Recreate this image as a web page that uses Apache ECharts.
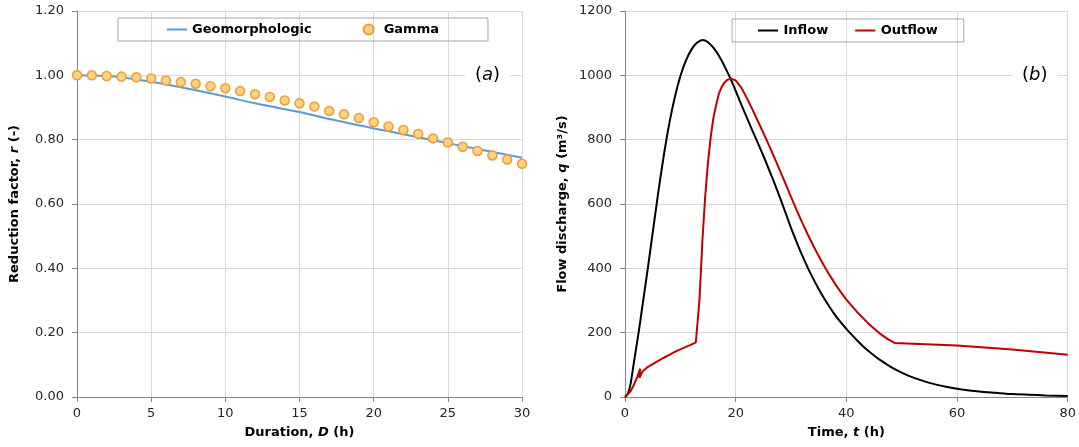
<!DOCTYPE html>
<html>
<head>
<meta charset="utf-8">
<script src="https://cdn.jsdelivr.net/npm/echarts@6/dist/echarts.min.js"></script>
<style>
  html, body { margin: 0; padding: 0; background: #fff; }
  #main { width: 1079px; height: 447px; }
</style>
</head>
<body>
<div id="main"></div>
<script>
// (a) reduction factor vs duration
const gammaDuration = [0,1,2,3,4,5,6,7,8,9,10,11,12,13,14,15,16,17,18,19,20,21,22,23,24,25,26,27,28,29,30];
const gammaFactor = [1.000,1.000,0.998,0.996,0.994,0.990,0.984,0.979,0.974,0.966,0.960,0.951,0.941,0.933,0.922,0.913,
  0.903,0.889,0.879,0.867,0.854,0.841,0.830,0.818,0.804,0.791,0.778,0.765,0.751,0.738,0.725];
const geoDuration = [0,2,3,5,7,10,12,15,17,20,22,25,27,30];
const geoFactor = [1.000,0.998,0.994,0.980,0.963,0.934,0.913,0.886,0.864,0.835,0.817,0.789,0.771,0.744];

// (b) hydrographs
const inflowTime = [0,0.5,1,1.5,2,2.5,3,4,5,6,7,8,9,10,11,12,13,14,15,16,17,18,19,20,21,22,23,24,25,26,27,28,29,30,
  31,32,33,34,35,36,37,38,39,40,41,42,43,44,45,46,48,50,52,55,58,60,64,67,70,73,76,80];
const inflowQ = [0,10,40,95,150,205,265,385,510,635,750,850,932,997,1046,1080,1101,1110,1103,1085,1060,1028,992,952,910,869,829,790,750,708,665,620,573,526,
  482,441,403,368,336,306,279,254,232,212,193,175,158,143,129,116,94,76,61,44,32,26,17,13,9,7,5,3];
const outflowTime = [0,1,1.5,2.2,2.75,2.6,3.2,4,5,6,7,8,9,10,11,12,12.8,13.45,14,14.5,15,15.5,16,16.5,17,17.5,18,18.5,19.2,20,21,22,23,24,25,26,27,28,29,30,
  31,32,33,34,35,36,37,38,39,40,42,44,46,47.5,48.7,60,70,80];
const outflowQ = [0,18,34,62,88,60,80,92,102,112,122,131,140,148,156,163,170,300,490,625,730,810,870,910,945,965,978,986,990,984,962,930,895,858,821,783,744,704,663,622,
  582,543,506,471,438,407,378,351,326,303,263,228,198,180,168,160,148,131];

const pairs = (xs, ys) => xs.map((x, i) => [x, ys[i]]);

const gridColor = '#d9d9d9';
const axisColor = '#868686';
const labelColor = '#262626';
// plain line legend icon (thin bar inside a 20x10 box)
const lineIcon = 'path://M0,4.1 L20,4.1 L20,5.9 L0,5.9 Z M0,0 L0.01,0 L0,0.01 Z M20,10 L19.99,10 L20,9.99 Z';

const nameRich = {
  b: { fontWeight: 'bold', fontSize: 13, color: '#000', fontFamily: 'DejaVu Sans' },
  i: { fontWeight: 'bold', fontStyle: 'italic', fontSize: 13, color: '#000', fontFamily: 'DejaVu Sans' }
};

function xAxisOf(idx, max, interval, name) {
  return {
    type: 'value', gridIndex: idx, min: 0, max: max, interval: interval,
    name: name, nameLocation: 'middle', nameGap: 29,
    nameTextStyle: { rich: nameRich },
    axisLine: { show: true, onZero: false, lineStyle: { color: axisColor, width: 1 } },
    axisTick: { show: true, length: 5, lineStyle: { color: axisColor } },
    axisLabel: { margin: 10, fontSize: 13, color: labelColor, fontFamily: 'DejaVu Sans' },
    splitLine: { show: true, lineStyle: { color: gridColor, width: 1 } }
  };
}

function yAxisOf(idx, max, interval, name, fmt) {
  return {
    type: 'value', gridIndex: idx, min: 0, max: max, interval: interval,
    name: name, nameLocation: 'middle', nameGap: 56,
    nameTextStyle: { rich: nameRich },
    axisLine: { show: true, onZero: false, lineStyle: { color: axisColor, width: 1 } },
    axisTick: { show: true, length: 5, lineStyle: { color: axisColor } },
    axisLabel: { margin: 13, fontSize: 13, color: labelColor, fontFamily: 'DejaVu Sans', formatter: fmt },
    splitLine: { show: true, lineStyle: { color: gridColor, width: 1 } }
  };
}

const legendText = { fontWeight: 'bold', fontSize: 13, color: '#000', fontFamily: 'DejaVu Sans' };

const option = {
  animation: false,
  backgroundColor: '#fff',
  grid: [
    { left: 77, top: 11, width: 445, height: 386 },
    { left: 625, top: 11, width: 445, height: 386 }
  ],
  xAxis: [
    xAxisOf(0, 30, 5, '{b|Duration, }{i|D}{b| (h)}'),
    xAxisOf(1, 80, 20, '{b|Time, }{i|t}{b| (h)}')
  ],
  yAxis: [
    yAxisOf(0, 1.2, 0.2, '{b|Reduction factor, }{i|r}{b| (-)}', v => v.toFixed(2)),
    yAxisOf(1, 1200, 200, '{b|Flow discharge, }{i|q}{b| (m³/s)}', v => String(v))
  ],
  legend: [
    {
      data: [{ name: 'Geomorphologic', icon: lineIcon }, { name: 'Gamma', icon: 'circle' }],
      left: 118, top: 18,
      padding: [5, 49, 5, 49], itemGap: 51,
      itemWidth: 20, itemHeight: 10,
      borderColor: '#a6a6a6', borderWidth: 1,
      textStyle: legendText
    },
    {
      data: [{ name: 'Inflow', icon: lineIcon }, { name: 'Outflow', icon: lineIcon }],
      left: 732, top: 19,
      padding: [5, 26, 5, 26], itemGap: 27,
      itemWidth: 21, itemHeight: 10,
      borderColor: '#a6a6a6', borderWidth: 1,
      textStyle: legendText
    }
  ],
  graphic: [
    {
      type: 'text', left: 465, top: 64, z: 10,
      style: {
        text: '({i|a})', font: '18px "DejaVu Sans"', fill: '#000',
        backgroundColor: '#fff', padding: [2, 10],
        rich: { i: { fontStyle: 'italic', fontSize: 18, fontFamily: 'DejaVu Sans' } }
      }
    },
    {
      type: 'text', left: 1012, top: 64, z: 10,
      style: {
        text: '({i|b})', font: '18px "DejaVu Sans"', fill: '#000',
        backgroundColor: '#fff', padding: [2, 10],
        rich: { i: { fontStyle: 'italic', fontSize: 18, fontFamily: 'DejaVu Sans' } }
      }
    }
  ],
  series: [
    {
      name: 'Geomorphologic', type: 'line', xAxisIndex: 0, yAxisIndex: 0,
      data: pairs(geoDuration, geoFactor), smooth: 0.3,
      symbol: 'none', lineStyle: { color: '#5b9bd5', width: 2 }, itemStyle: { color: '#5b9bd5' }, z: 2
    },
    {
      name: 'Gamma', type: 'scatter', xAxisIndex: 0, yAxisIndex: 0,
      data: pairs(gammaDuration, gammaFactor),
      symbol: 'circle', symbolSize: 9,
      itemStyle: { color: '#ffd380', borderColor: '#f29b38', borderWidth: 1.5, opacity: 1 }, z: 3
    },
    {
      name: 'Inflow', type: 'line', xAxisIndex: 1, yAxisIndex: 1,
      data: pairs(inflowTime, inflowQ), smooth: 0.2,
      symbol: 'none', lineStyle: { color: '#000', width: 2 }, itemStyle: { color: '#000' }
    },
    {
      name: 'Outflow', type: 'line', xAxisIndex: 1, yAxisIndex: 1,
      data: pairs(outflowTime, outflowQ),
      symbol: 'none', lineStyle: { color: '#c00000', width: 2 }, itemStyle: { color: '#c00000' }
    }
  ]
};

const chart = echarts.init(document.getElementById('main'), null, { renderer: 'canvas' });
chart.setOption(option);
</script>
</body>
</html>
